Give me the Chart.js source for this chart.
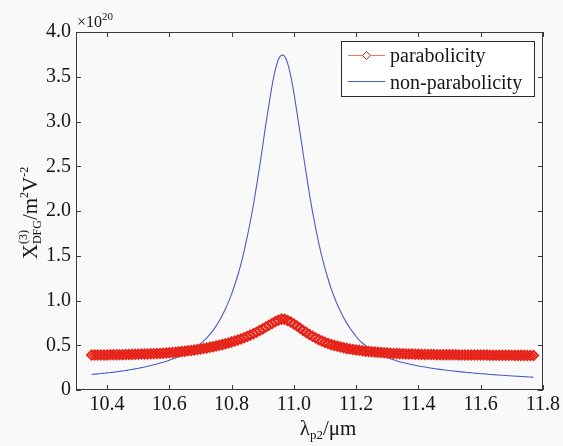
<!DOCTYPE html>
<html><head><meta charset="utf-8">
<script src="https://cdn.jsdelivr.net/npm/chart.js@4.4.0/dist/chart.umd.min.js"></script>
<style>html,body{margin:0;padding:0;background:#f9f9f9;}canvas{display:block}
#fl{position:absolute;left:-999px;top:0;font-family:'Liberation Serif';font-size:20px}</style>
</head><body>
<span id="fl">parabolicity 0.5 λμ</span>
<canvas id="c" width="563" height="446"></canvas>
<script>
// wavelength λp2 (µm)
const wavelength = [
  10.35,10.36,10.37,10.38,10.39,10.40,10.41,10.42,10.43,10.44,
  10.45,10.46,10.47,10.48,10.49,10.50,10.51,10.52,10.53,10.54,
  10.55,10.56,10.57,10.58,10.59,10.60,10.61,10.62,10.63,10.64,
  10.65,10.66,10.67,10.68,10.69,10.70,10.71,10.72,10.73,10.74,
  10.75,10.76,10.77,10.78,10.79,10.80,10.81,10.82,10.83,10.84,
  10.85,10.86,10.87,10.88,10.89,10.90,10.91,10.92,10.93,10.94,
  10.95,10.96,10.97,10.98,10.99,11.00,11.01,11.02,11.03,11.04,
  11.05,11.06,11.07,11.08,11.09,11.10,11.11,11.12,11.13,11.14,
  11.15,11.16,11.17,11.18,11.19,11.20,11.21,11.22,11.23,11.24,
  11.25,11.26,11.27,11.28,11.29,11.30,11.31,11.32,11.33,11.34,
  11.35,11.36,11.37,11.38,11.39,11.40,11.41,11.42,11.43,11.44,
  11.45,11.46,11.47,11.48,11.49,11.50,11.51,11.52,11.53,11.54,
  11.55,11.56,11.57,11.58,11.59,11.60,11.61,11.62,11.63,11.64,
  11.65,11.66,11.67,11.68,11.69,11.70,11.71,11.72,11.73,11.74,
  11.75,11.76,11.77
];
// χ(3) with parabolicity (×10^20)
const parabolicity = [
  .390,.390,.391,.391,.392,.392,.393,.393,.394,.394,
  .395,.396,.397,.398,.399,.400,.401,.402,.403,.404,
  .405,.407,.409,.411,.413,.416,.419,.422,.426,.430,
  .434,.438,.442,.447,.452,.458,.464,.470,.477,.484,
  .491,.499,.507,.516,.526,.536,.547,.559,.571,.584,
  .598,.613,.629,.646,.664,.683,.703,.723,.743,.763,
  .780,.792,.790,.777,.759,.738,.714,.690,.666,.643,
  .621,.600,.581,.563,.547,.532,.519,.507,.497,.488,
  .480,.472,.465,.459,.453,.448,.443,.438,.434,.430,
  .427,.424,.421,.418,.416,.413,.411,.409,.407,.406,
  .404,.403,.402,.401,.400,.399,.398,.397,.397,.396,
  .396,.395,.395,.394,.394,.393,.393,.393,.392,.392,
  .392,.391,.391,.391,.390,.390,.390,.390,.389,.389,
  .389,.389,.388,.388,.388,.388,.387,.387,.387,.387,
  .386,.386,.386
];
// χ(3) without parabolicity (×10^20)
const nonParabolicity = [
  .174,.177,.180,.184,.187,.191,.195,.199,.203,.208,
  .213,.218,.224,.230,.236,.243,.250,.257,.265,.273,
  .282,.291,.301,.311,.322,.334,.346,.359,.373,.388,
  .404,.421,.440,.462,.488,.517,.549,.583,.622,.664,
  .714,.771,.835,.906,.985,1.074,1.173,1.285,1.410,1.550,
  1.710,1.880,2.070,2.280,2.500,2.730,2.970,3.190,3.400,3.570,
  3.690,3.740,3.730,3.650,3.510,3.320,3.100,2.870,2.640,2.410,
  2.190,1.990,1.810,1.640,1.490,1.360,1.240,1.130,1.037,.952,
  .876,.808,.747,.692,.643,.598,.558,.525,.497,.471,
  .449,.428,.410,.392,.377,.363,.350,.338,.326,.316,
  .307,.298,.290,.283,.276,.269,.263,.257,.251,.245,
  .240,.235,.230,.226,.221,.217,.213,.209,.205,.202,
  .198,.195,.192,.188,.185,.182,.180,.177,.174,.172,
  .169,.167,.164,.162,.160,.157,.155,.153,.151,.149,
  .147,.145,.143
];
const seriesNames = ['parabolicity', 'non-parabolicity'];
const xTicks = [10.4, 10.6, 10.8, 11.0, 11.2, 11.4, 11.6, 11.8];
const yTicks = [0, 0.5, 1.0, 1.5, 2.0, 2.5, 3.0, 3.5, 4.0];
const xRange = [10.3, 11.8];
const yRange = [0, 4];

const FONT = "'Liberation Serif'";
const TXT = '#151515';
const RED = '#e6241a';
const RED_LINE = '#f07563';
const BLUE = '#4a5ccc';
const FRAME = '#3a3a3a';

function drawRich(ctx, parts, x, y, align) {
  // parts: [text, size, dy, noAdvance]
  const widths = parts.map(p => { ctx.font = p[1] + 'px ' + FONT; return ctx.measureText(p[0]).width; });
  let cur = 0;
  const pos = [];
  for (let i = 0; i < parts.length; i++) {
    pos.push(cur);
    if (!parts[i][3]) cur += widths[i];
  }
  const start = align === 'center' ? x - cur / 2 : x;
  ctx.textAlign = 'left';
  ctx.textBaseline = 'alphabetic';
  for (let i = 0; i < parts.length; i++) {
    ctx.font = parts[i][1] + 'px ' + FONT;
    ctx.fillText(parts[i][0], start + pos[i], y + parts[i][2]);
  }
}

const decor = {
  id: 'decor',
  afterDraw(chart) {
    const ctx = chart.ctx;
    const a = chart.chartArea;
    const xs = chart.scales.x, ys = chart.scales.y;
    ctx.save();
    ctx.strokeStyle = FRAME;
    ctx.lineWidth = 1;
    ctx.strokeRect(Math.round(a.left) + 0.5, Math.round(a.top) + 0.5, Math.round(a.right - a.left) - 1, Math.round(a.bottom - a.top) - 1);
    ctx.beginPath();
    xTicks.forEach(v => {
      const px = Math.round(xs.getPixelForValue(v)) + 0.5;
      ctx.moveTo(px, a.bottom); ctx.lineTo(px, a.bottom - 5);
      ctx.moveTo(px, a.top); ctx.lineTo(px, a.top + 5);
    });
    yTicks.forEach(v => {
      const py = Math.round(ys.getPixelForValue(v)) + 0.5;
      ctx.moveTo(a.left, py); ctx.lineTo(a.left + 5, py);
      ctx.moveTo(a.right, py); ctx.lineTo(a.right - 5, py);
    });
    ctx.stroke();

    ctx.fillStyle = TXT;
    drawRich(ctx, [['\u00d710', 16, 0], ['20', 11, -7]], a.left + 1, 27, 'left');
    drawRich(ctx, [['\u03bb', 21, 0], ['p2', 13, 4], ['/\u03bcm', 21, 0]], 328, 435, 'center');
    ctx.save();
    ctx.translate(37, 213);
    ctx.rotate(-Math.PI / 2);
    drawRich(ctx, [['X', 21, 0], ['(3)', 12, -10, true], ['DFG', 12, 4], ['/m', 21, 0], ['2', 12, -9], ['V', 21, 0], ['-2', 12, -9]], 0, 0, 'center');
    ctx.restore();

    const lx = 341.5, ly = 41.5, lw = 193, lh = 55;
    ctx.fillStyle = '#ffffff';
    ctx.fillRect(lx, ly, lw, lh);
    ctx.strokeStyle = '#2a2a2a';
    ctx.strokeRect(lx, ly, lw, lh);
    ctx.strokeStyle = RED_LINE;
    ctx.beginPath(); ctx.moveTo(348, 55.5); ctx.lineTo(385, 55.5); ctx.stroke();
    ctx.strokeStyle = RED;
    ctx.beginPath();
    ctx.moveTo(366.5, 51.5); ctx.lineTo(370.5, 55.5); ctx.lineTo(366.5, 59.5); ctx.lineTo(362.5, 55.5); ctx.closePath();
    ctx.fillStyle = '#ffffff'; ctx.fill(); ctx.stroke();
    ctx.strokeStyle = BLUE;
    ctx.beginPath(); ctx.moveTo(348, 81.5); ctx.lineTo(385, 81.5); ctx.stroke();
    ctx.fillStyle = TXT;
    ctx.font = '20px ' + FONT;
    ctx.textAlign = 'left'; ctx.textBaseline = 'alphabetic';
    ctx.fillText(seriesNames[0], 390, 62);
    ctx.fillText(seriesNames[1], 390, 89);
    ctx.restore();
  }
};

new Chart(document.getElementById('c'), {
  type: 'line',
  data: {
    datasets: [
      {
        label: seriesNames[0],
        data: wavelength.map((x, i) => ({ x, y: parabolicity[i] })),
        borderColor: RED, borderWidth: 1,
        pointStyle: 'rectRot', pointRadius: 4.6,
        pointBorderColor: RED, pointBackgroundColor: 'rgba(255,255,255,0)', pointBorderWidth: 2,
        tension: 0
      },
      {
        label: seriesNames[1],
        data: wavelength.map((x, i) => ({ x, y: nonParabolicity[i] })),
        borderColor: BLUE, borderWidth: 1.1,
        pointRadius: 0, tension: 0.3
      }
    ]
  },
  options: {
    responsive: false, animation: false, devicePixelRatio: 1,
    font: { family: FONT },
    layout: { padding: { left: 0, right: 20, top: 32, bottom: 0 } },
    plugins: { legend: { display: false }, tooltip: { enabled: false } },
    scales: {
      x: {
        type: 'linear', min: xRange[0], max: xRange[1],
        afterBuildTicks: s => { s.ticks = xTicks.map(v => ({ value: v })); },
        afterFit: s => { s.height = 56; },
        grid: { display: false, drawTicks: false },
        border: { display: false },
        ticks: { padding: 3, color: TXT, font: { family: FONT, size: 20 }, maxRotation: 0, autoSkip: false,
          callback: v => Number(v).toFixed(1) }
      },
      y: {
        type: 'linear', min: yRange[0], max: yRange[1],
        afterBuildTicks: s => { s.ticks = yTicks.map(v => ({ value: v })); },
        afterFit: s => { s.width = 76; },
        grid: { display: false, drawTicks: false },
        border: { display: false },
        ticks: { padding: 5, color: TXT, font: { family: FONT, size: 20 }, autoSkip: false,
          callback: v => v === 0 ? '0' : Number(v).toFixed(1) }
      }
    }
  },
  plugins: [decor]
});
</script>
</body></html>
